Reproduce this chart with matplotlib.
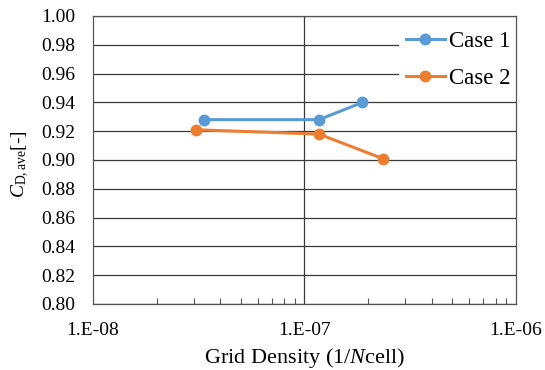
import matplotlib
matplotlib.use("Agg")
import matplotlib.pyplot as plt
from matplotlib.ticker import LogLocator, NullFormatter

plt.rcParams['font.family'] = ['Liberation Serif', 'DejaVu Serif']
plt.rcParams['mathtext.fontset'] = 'custom'
plt.rcParams['mathtext.rm'] = 'Liberation Serif'
plt.rcParams['mathtext.it'] = 'Liberation Serif:italic'

case1_x = [3.36e-8, 1.17e-7, 1.88e-7]
case1_y = [0.928, 0.928, 0.940]
case2_x = [3.07e-8, 1.17e-7, 2.34e-7]
case2_y = [0.921, 0.918, 0.901]
series_labels = ["Case 1", "Case 2"]
xtick_vals = [1e-8, 1e-7, 1e-6]
xtick_labels = ["1.E-08", "1.E-07", "1.E-06"]
yticks = [0.80 + 0.02 * i for i in range(11)]

fig = plt.figure(figsize=(5.45, 3.70), dpi=100)
ax = fig.add_axes([0.1706, 0.1784, 0.9468 - 0.1706, 0.9568 - 0.1784])

gc = '#3a3a3a'
ax.set_xscale('log')
ax.set_xlim(1e-8, 1e-6)
ax.set_ylim(0.80, 1.00)
ax.set_yticks(yticks)
ax.set_yticklabels([f"{v:.2f}" for v in yticks])
ax.set_xticks(xtick_vals)
ax.set_xticklabels(xtick_labels)
ax.xaxis.set_minor_locator(LogLocator(base=10, subs=range(2, 10)))
ax.xaxis.set_minor_formatter(NullFormatter())

ax.grid(axis='y', color=gc, lw=0.9)
ax.axvline(1e-7, color=gc, lw=0.9, zorder=1)
ax.set_axisbelow(True)

for s in ax.spines.values():
    s.set_color('#555555')
    s.set_linewidth(0.9)

ax.tick_params(axis='y', which='major', length=0, labelsize=14, pad=13)
ax.tick_params(axis='x', which='major', length=0, labelsize=14, pad=13)
ax.tick_params(axis='x', which='minor', direction='in', length=4, color='#555555', width=0.8)

c1 = '#5B9BD5'
c2 = '#ED7D31'
ax.plot(case1_x, case1_y, '-o', color=c1, lw=2.2, ms=7.5, label=series_labels[0], zorder=3)
ax.plot(case2_x, case2_y, '-o', color=c2, lw=2.2, ms=7.5, label=series_labels[1], zorder=3)

leg = ax.legend(loc='upper left', bbox_to_anchor=(399 / 545, 1 - 24 / 370),
                bbox_transform=fig.transFigure, fontsize=16.5, frameon=True,
                fancybox=False, edgecolor='none', facecolor='white', framealpha=1,
                handlelength=1.7, labelspacing=0.7, borderpad=0.3, handletextpad=0.2,
                borderaxespad=0)
leg.set_zorder(2)

ax.set_xlabel(r"Grid Density (1/$\mathit{N}$cell)", fontsize=16, labelpad=5)
ax.set_ylabel(r"$\mathit{C}_{\mathrm{D,ave}}$[-]", fontsize=14)
ax.yaxis.set_label_coords(-0.146, 0.485)

fig.savefig("out.png", dpi=100)
